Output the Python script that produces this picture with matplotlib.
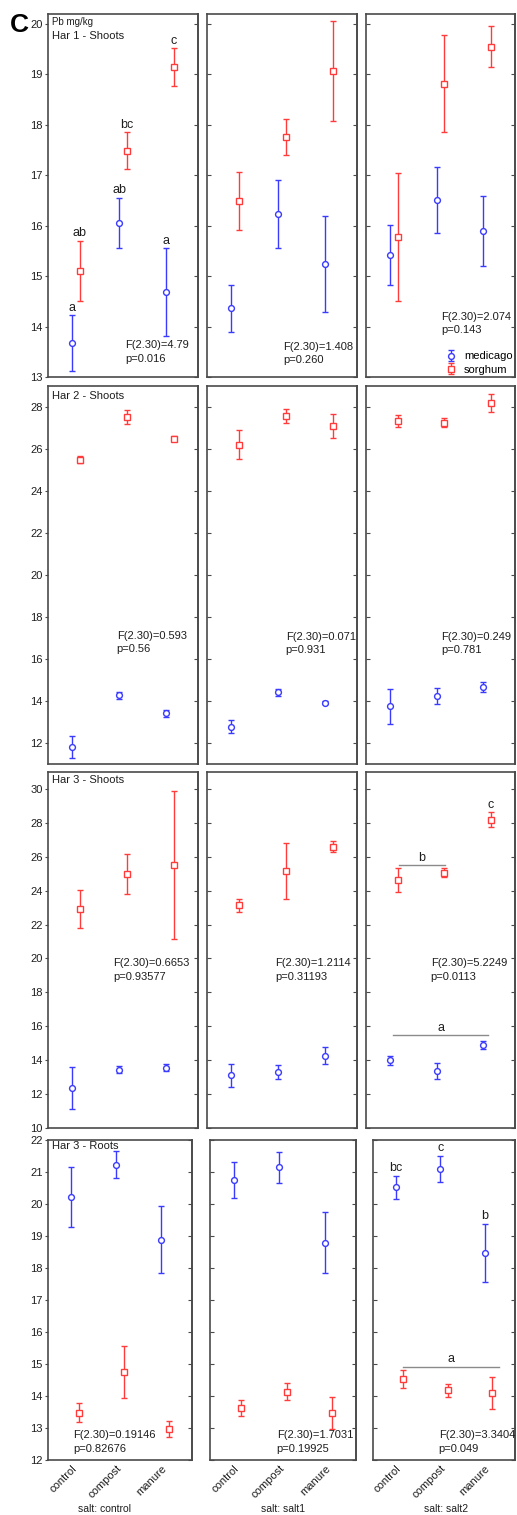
import numpy as np
import matplotlib
matplotlib.use("Agg")
import matplotlib.pyplot as plt

plt.rcParams["font.family"] = ["Liberation Sans", "DejaVu Sans"]

# ---------------------------------------------------------------- data
categories = ["control", "compost", "manure"]
salt_levels = ["salt: control", "salt: salt1", "salt: salt2"]
harvests = ["Har 1 - Shoots", "Har 2 - Shoots", "Har 3 - Shoots", "Har 3 - Roots"]
series_names = ["medicago", "sorghum"]

# means and error half-widths, one inner list per salt level
har1_med_mean = [[13.67, 16.05, 14.68], [14.36, 16.23, 15.24], [15.42, 16.51, 15.90]]
har1_med_err = [[0.55, 0.50, 0.87], [0.47, 0.67, 0.96], [0.59, 0.66, 0.69]]
har1_sor_mean = [[15.10, 17.49, 19.15], [16.49, 17.76, 19.07], [15.77, 18.82, 19.55]]
har1_sor_err = [[0.60, 0.36, 0.37], [0.57, 0.36, 1.00], [1.27, 0.96, 0.41]]

har2_med_mean = [[11.79, 14.27, 13.41], [12.78, 14.42, 13.92], [13.74, 14.23, 14.68]]
har2_med_err = [[0.52, 0.16, 0.17], [0.32, 0.16, 0.08], [0.82, 0.37, 0.24]]
har2_sor_mean = [[25.50, 27.51, 26.50], [26.21, 27.56, 27.10], [27.33, 27.26, 28.19]]
har2_sor_err = [[0.17, 0.34, 0.12], [0.70, 0.34, 0.58], [0.27, 0.23, 0.45]]

har3s_med_mean = [[12.35, 13.45, 13.55], [13.10, 13.29, 14.27], [14.00, 13.35, 14.88]]
har3s_med_err = [[1.25, 0.23, 0.20], [0.67, 0.40, 0.50], [0.26, 0.46, 0.24]]
har3s_sor_mean = [[22.91, 24.99, 25.50], [23.13, 25.16, 26.59], [24.61, 25.05, 28.18]]
har3s_sor_err = [[1.14, 1.18, 4.36], [0.37, 1.64, 0.32], [0.70, 0.27, 0.44]]

har3r_med_mean = [[20.22, 21.23, 18.89], [20.75, 21.15, 18.79], [20.52, 21.09, 18.48]]
har3r_med_err = [[0.93, 0.43, 1.05], [0.57, 0.48, 0.95], [0.37, 0.41, 0.91]]
har3r_sor_mean = [[13.48, 14.75, 12.97], [13.61, 14.13, 13.48], [14.53, 14.18, 14.10]]
har3r_sor_err = [[0.30, 0.80, 0.24], [0.25, 0.27, 0.50], [0.29, 0.20, 0.50]]

# ANOVA results per harvest and salt level: (F, p)
har1_stats = [("4.79", "0.016"), ("1.408", "0.260"), ("2.074", "0.143")]
har2_stats = [("0.593", "0.56"), ("0.071", "0.931"), ("0.249", "0.781")]
har3s_stats = [("0.6653", "0.93577"), ("1.2114", "0.31193"), ("5.2249", "0.0113")]
har3r_stats = [("0.19146", "0.82676"), ("1.7031", "0.19925"), ("3.3404", "0.049")]

# post-hoc letters: (harvest, salt, series, category, letter)
posthoc_letters = [
    (0, 0, 0, 0, "a"), (0, 0, 0, 1, "ab"), (0, 0, 0, 2, "a"),
    (0, 0, 1, 0, "ab"), (0, 0, 1, 1, "bc"), (0, 0, 1, 2, "c"),
    (2, 2, 1, 2, "c"),
    (3, 2, 0, 0, "bc"), (3, 2, 0, 1, "c"), (3, 2, 0, 2, "b"),
]
# grouping bars: (harvest, salt, letter, x start, x end, y)
group_bars = [
    (2, 2, "b", 0.10, 1.09, 25.52),
    (2, 2, "a", -0.01, 2.03, 15.49),
    (3, 2, "a", 0.08, 2.24, 14.91),
]

med_means = [har1_med_mean, har2_med_mean, har3s_med_mean, har3r_med_mean]
med_errs = [har1_med_err, har2_med_err, har3s_med_err, har3r_med_err]
sor_means = [har1_sor_mean, har2_sor_mean, har3s_sor_mean, har3r_sor_mean]
sor_errs = [har1_sor_err, har2_sor_err, har3s_sor_err, har3r_sor_err]
stats = [har1_stats, har2_stats, har3s_stats, har3r_stats]

# ---------------------------------------------------------------- layout
W, H = 517, 1515
row_px = [(14, 377), (386, 764), (772, 1128), (1140, 1460)]
col_px = [
    [(48, 198), (207, 357), (366, 515)],
    [(48, 198), (207, 357), (366, 515)],
    [(48, 198), (207, 357), (366, 515)],
    [(48, 192), (210, 356), (373, 515)],
]
ylims = [(13, 20.2), (11, 29), (10, 31), (12, 22)]
yticks = [np.arange(13, 21, 1), np.arange(12, 29, 2), np.arange(10, 31, 2), np.arange(12, 23, 1)]
# position (axes fraction) of the F-line of each stats block
stat_pos = [
    [(0.513, 0.088), (0.509, 0.083), (0.503, 0.166)],
    [(0.458, 0.339), (0.525, 0.337), (0.503, 0.337)],
    [(0.435, 0.463), (0.453, 0.463), (0.434, 0.463)],
    [(0.176, 0.077), (0.457, 0.077), (0.463, 0.077)],
]
title_y = [0.940, 0.974, 0.977, 0.981]
salt_label_x = [105, 283, 446]

BLUE = "#3b3bff"
RED = "#ff3b3b"
FRAME = "#4a4a4a"
TXT = "#1e1e1e"
OFFSET = 0.08
FS = 8

fig = plt.figure(figsize=(W / 100, H / 100), dpi=100)
fig.patch.set_facecolor("white")

x = np.arange(len(categories))
legend_ax = None
handles = []

for r in range(4):
    y0, y1 = row_px[r]
    for c in range(3):
        x0, x1 = col_px[r][c]
        ax = fig.add_axes([x0 / W, 1 - y1 / H, (x1 - x0) / W, (y1 - y0) / H])
        for sp in ax.spines.values():
            sp.set_color(FRAME)
            sp.set_linewidth(1.2)

        hm = ax.errorbar(x - OFFSET, med_means[r][c], yerr=med_errs[r][c], fmt="o",
                         ms=4.2, mfc="white", mec=BLUE, mew=1.0, ecolor=BLUE,
                         elinewidth=1.0, capsize=2.5, capthick=1.0, label=series_names[0])
        hs = ax.errorbar(x + OFFSET, sor_means[r][c], yerr=sor_errs[r][c], fmt="s",
                         ms=4.2, mfc="white", mec=RED, mew=1.0, ecolor=RED,
                         elinewidth=1.0, capsize=2.5, capthick=1.0, label=series_names[1])
        if r == 0 and c == 2:
            legend_ax = ax
            handles = [hm, hs]

        ax.set_xlim(-0.6, 2.6)
        ax.set_ylim(*ylims[r])
        ax.set_yticks(yticks[r])
        ax.set_xticks(x)
        ax.tick_params(axis="x", length=0)
        if r == 3:
            ax.set_xticklabels(categories, rotation=45, ha="right", va="center",
                               rotation_mode="anchor", fontsize=FS, color=TXT)
            ax.tick_params(axis="x", pad=5)
        else:
            ax.set_xticklabels([])

        if c == 0:
            ax.tick_params(axis="y", direction="out", length=2, width=0.8, color=FRAME,
                           labelsize=FS, labelcolor=TXT, pad=2)
        else:
            ax.tick_params(axis="y", direction="in", length=3, width=0.8, color=FRAME,
                           labelleft=False)
        right = ax.secondary_yaxis("right")
        right.set_yticks(yticks[r])
        right.tick_params(direction="in", length=3, width=0.8, color=FRAME, labelright=False)
        right.spines["right"].set_color(FRAME)
        right.spines["right"].set_linewidth(1.2)

        fx, fy = stat_pos[r][c]
        dy = 13.5 / (y1 - y0)
        fval, pval = stats[r][c]
        ax.text(fx, fy, f"F(2.30)={fval}", transform=ax.transAxes, fontsize=FS,
                color=TXT, ha="left", va="center")
        ax.text(fx, fy - dy, f"p={pval}", transform=ax.transAxes, fontsize=FS,
                color=TXT, ha="left", va="center")

        if c == 0:
            ax.text(4 / (x1 - x0), title_y[r], harvests[r], transform=ax.transAxes,
                    fontsize=FS, color=TXT, ha="left", va="center")
            if r == 0:
                ax.text(4 / (x1 - x0), 0.978, "Pb mg/kg", transform=ax.transAxes,
                        fontsize=7, color=TXT, ha="left", va="center")

        for (hr, hc, s, k, letter) in posthoc_letters:
            if hr == r and hc == c:
                means = med_means if s == 0 else sor_means
                errs = med_errs if s == 0 else sor_errs
                xs = k - OFFSET if s == 0 else k + OFFSET
                top = means[r][c][k] + errs[r][c][k]
                ax.annotate(letter, (xs, top), xytext=(0, 5.5), textcoords="offset points",
                            ha="center", va="center", fontsize=9, color=TXT)

        for (hr, hc, letter, gx0, gx1, gy) in group_bars:
            if hr == r and hc == c:
                ax.plot([gx0, gx1], [gy, gy], color="#8a8a8a", lw=1.0)
                ax.annotate(letter, ((gx0 + gx1) / 2, gy), xytext=(0, 1),
                            textcoords="offset points", ha="center", va="bottom",
                            fontsize=9, color=TXT)

        if r == 3:
            fig.text(salt_label_x[c] / W, 1 - 1509 / H, salt_levels[c], fontsize=7.5,
                     color=TXT, ha="center", va="center")

legend_ax.legend(handles, series_names, loc="lower left", bbox_to_anchor=(0.50, 0.0),
                 frameon=False, fontsize=FS, handlelength=1.4, handletextpad=0.5,
                 labelspacing=0.3, borderpad=0.2, borderaxespad=0.0)

fig.text(10 / W, 1 - 25 / H, "C", fontsize=19, fontweight="bold", color="black",
         ha="left", va="center")

fig.savefig("out.png", dpi=100, facecolor="white")
